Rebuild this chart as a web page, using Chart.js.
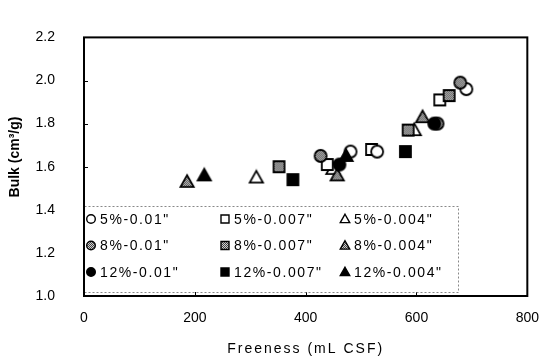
<!DOCTYPE html>
<html lang="en">
<head>
<meta charset="UTF-8" />
<title>Bulk vs Freeness</title>
<script src="https://cdn.jsdelivr.net/npm/chart.js"></script>
<style>
  html, body { margin: 0; padding: 0; background: #fff; }
  #wrap { width: 553px; height: 364px; }
</style>
</head>
<body>
<div id="wrap"><canvas id="bulkChart"></canvas></div>
<script>
// series names (consistency - slot width)
const seriesLabels = ['5%-0.01"', '5%-0.007"', '5%-0.004"',
                      '8%-0.01"', '8%-0.007"', '8%-0.004"',
                      '12%-0.01"', '12%-0.007"', '12%-0.004"'];

// freeness (mL CSF) / bulk (cm3/g) per series
const free5_010 = [481, 529, 690];
const bulk5_010 = [1.67, 1.67, 1.96];
const free5_007 = [439, 519, 642];
const bulk5_007 = [1.61, 1.68, 1.91];
const free5_004 = [311, 449, 596];
const bulk5_004 = [1.55, 1.59, 1.77];

const free8_010 = [427, 638, 679];
const bulk8_010 = [1.65, 1.80, 1.99];
const free8_007 = [352, 585, 659];
const bulk8_007 = [1.60, 1.77, 1.93];
const free8_004 = [186, 457, 611];
const bulk8_004 = [1.53, 1.56, 1.83];

const free12_010 = [461, 632];
const bulk12_010 = [1.61, 1.80];
const free12_007 = [377, 580];
const bulk12_007 = [1.54, 1.67];
const free12_004 = [217, 473];
const bulk12_004 = [1.56, 1.65];

const xTicks = [0, 200, 400, 600, 800];
const yTicks = [1.0, 1.2, 1.4, 1.6, 1.8, 2.0, 2.2];

const freeAll = [free5_010, free5_007, free5_004, free8_010, free8_007, free8_004, free12_010, free12_007, free12_004];
const bulkAll = [bulk5_010, bulk5_007, bulk5_004, bulk8_010, bulk8_007, bulk8_004, bulk12_010, bulk12_007, bulk12_004];
const shapes = ['circle', 'square', 'triangle'];
const fills = ['white', 'hatch', 'black'];

const FONT = "'Liberation Sans', Arial, sans-serif";

// grainy grey fill used for the 8% markers
function hatch(ctx) {
  const c = document.createElement('canvas');
  c.width = 2; c.height = 2;
  const p = c.getContext('2d');
  p.fillStyle = '#d0d0d0'; p.fillRect(0, 0, 2, 2);
  p.fillStyle = '#444'; p.fillRect(0, 0, 1, 1); p.fillRect(1, 1, 1, 1);
  return ctx.createPattern(c, 'repeat');
}

function drawMarker(ctx, shape, fill, cx, cy, r, lw) {
  ctx.save();
  ctx.beginPath();
  if (shape === 'circle') {
    ctx.arc(cx, cy, r, 0, Math.PI * 2);
  } else if (shape === 'square') {
    ctx.rect(cx - r, cy - r, r * 2, r * 2);
  } else {
    ctx.moveTo(cx, cy - r * 1.1);
    ctx.lineTo(cx + r * 1.1, cy + r * 0.85);
    ctx.lineTo(cx - r * 1.1, cy + r * 0.85);
    ctx.closePath();
  }
  ctx.fillStyle = fill === 'white' ? '#fff' : fill === 'black' ? '#000' : hatch(ctx);
  ctx.fill();
  ctx.lineWidth = lw;
  ctx.strokeStyle = '#000';
  ctx.lineJoin = 'miter';
  ctx.stroke();
  ctx.restore();
}

function markerCanvas(shape, fill, r) {
  const c = document.createElement('canvas');
  const s = Math.ceil(r * 2 + 6);
  c.width = s; c.height = s;
  drawMarker(c.getContext('2d'), shape, fill, s / 2, s / 2, r, 1.8);
  return c;
}

const datasets = seriesLabels.map((label, i) => {
  const shape = shapes[i % 3];
  const fill = fills[Math.floor(i / 3)];
  return {
    label: label,
    data: freeAll[i].map((x, k) => ({ x: x, y: bulkAll[i][k] })),
    pointStyle: markerCanvas(shape, fill, shape === 'square' ? 5.5 : 6),
    pointRadius: 6,
    showLine: false,
    order: 3 - Math.floor(i / 3),
    _shape: shape,
    _fill: fill
  };
});

// box, inner ticks, titles and the boxed legend
const decorations = {
  id: 'decorations',
  afterDraw(chart) {
    const { ctx, chartArea: a, scales } = chart;
    ctx.save();

    // inward tick marks
    ctx.strokeStyle = '#000';
    ctx.lineWidth = 1;
    xTicks.slice(1, -1).forEach(v => {
      const x = Math.round(scales.x.getPixelForValue(v)) + 0.5;
      ctx.beginPath(); ctx.moveTo(x, a.bottom); ctx.lineTo(x, a.bottom - 5); ctx.stroke();
    });
    yTicks.slice(1, -1).forEach(v => {
      const y = Math.round(scales.y.getPixelForValue(v)) + 0.5;
      ctx.beginPath(); ctx.moveTo(a.left, y); ctx.lineTo(a.left + 4, y); ctx.stroke();
    });

    // legend
    const lx = a.left, ly = 206, lw = 374, lh = 86;
    ctx.fillStyle = '#fff';
    ctx.fillRect(lx, ly, lw, lh);
    ctx.setLineDash([2, 2]);
    ctx.strokeStyle = '#888';
    ctx.strokeRect(lx + 0.5, ly + 0.5, lw, lh);
    ctx.setLineDash([]);
    const colMark = [91, 225, 345];
    const rowY = [219, 245.5, 272];
    ctx.font = '14px ' + FONT;
    ctx.letterSpacing = '1.6px';
    ctx.textBaseline = 'middle';
    ctx.fillStyle = '#000';
    datasets.forEach((ds, i) => {
      const col = i % 3, row = Math.floor(i / 3);
      const mx = colMark[col], my = rowY[row];
      drawMarker(ctx, ds._shape, ds._fill, mx, my, ds._shape === 'square' ? 4 : 4.3, 1.4);
      ctx.fillStyle = '#000';
      ctx.fillText(ds.label, mx + 9, my + 1);
    });

    // plot frame
    ctx.lineWidth = 2;
    ctx.strokeStyle = '#000';
    ctx.strokeRect(a.left, a.top, a.right - a.left, a.bottom - a.top);

    // axis titles
    ctx.letterSpacing = '2px';
    ctx.font = '14px ' + FONT;
    ctx.textAlign = 'center';
    ctx.fillText('Freeness (mL CSF)', (a.left + a.right) / 2, 349);
    ctx.letterSpacing = '0px';
    ctx.translate(15, 157);
    ctx.rotate(-Math.PI / 2);
    ctx.font = 'bold 14px ' + FONT;
    ctx.fillText('Bulk (cm\u00B3/g)', 0, 0);
    ctx.restore();
  }
};

new Chart(document.getElementById('bulkChart'), {
  type: 'scatter',
  data: { datasets: datasets },
  options: {
    responsive: true,
    maintainAspectRatio: false,
    animation: false,
    events: [],
    layout: { padding: { top: 14, right: 16, left: 0, bottom: 0 } },
    plugins: { legend: { display: false }, tooltip: { enabled: false } },
    scales: {
      x: {
        type: 'linear',
        min: 0, max: 800,
        afterFit(s) { s.height = 68; },
        afterBuildTicks(s) { s.ticks = xTicks.map(v => ({ value: v })); },
        grid: { display: false, drawTicks: false },
        border: { display: false },
        ticks: { color: '#000', padding: 14, font: { family: FONT, size: 14 } }
      },
      y: {
        min: 1.0, max: 2.2,
        afterFit(s) { s.width = 84; },
        afterBuildTicks(s) { s.ticks = yTicks.map(v => ({ value: v })); },
        grid: { display: false, drawTicks: false },
        border: { display: false },
        ticks: {
          color: '#000', padding: 29,
          font: { family: FONT, size: 14 },
          callback: v => v.toFixed(1)
        }
      }
    }
  },
  plugins: [decorations]
});
</script>
</body>
</html>
